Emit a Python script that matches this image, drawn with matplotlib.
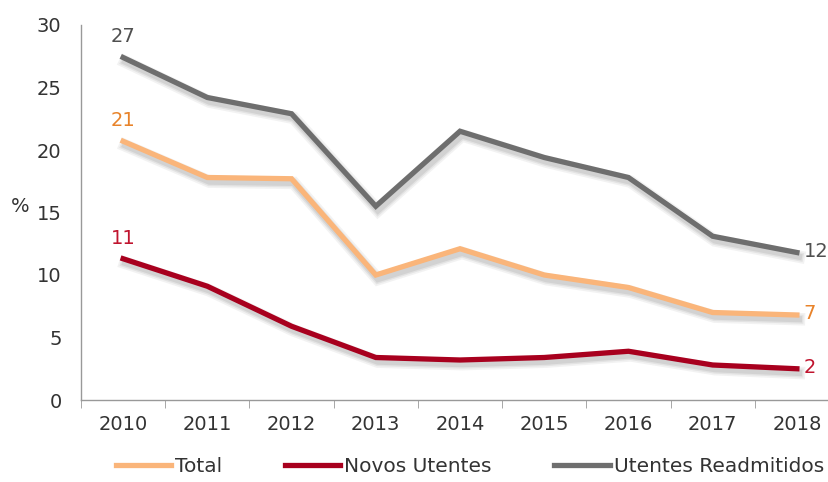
import matplotlib.pyplot as plt
import matplotlib.patheffects as pe
from matplotlib.lines import Line2D

# values (%)
anos = ['2010', '2011', '2012', '2013', '2014', '2015', '2016', '2017', '2018']
total = [20.7, 17.8, 17.7, 10.0, 12.1, 10.0, 9.0, 7.0, 6.8]
novos = [11.3, 9.1, 5.9, 3.4, 3.2, 3.4, 3.9, 2.8, 2.5]
readmitidos = [27.4, 24.2, 22.9, 15.5, 21.5, 19.4, 17.8, 13.1, 11.8]

# label shown at first/last point
lab_total = ['21', '7']
lab_novos = ['11', '2']
lab_readm = ['27', '12']

C_TOTAL = '#FAB57A'
C_NOVOS = '#A8001E'
C_READM = '#6E6E6E'
C_TOTAL_TXT = '#E8832A'
C_NOVOS_TXT = '#C0142E'
C_READM_TXT = '#505050'

plt.rcParams['font.family'] = ['DejaVu Sans']

fig = plt.figure(figsize=(8.29, 4.82), dpi=100)
ax = fig.add_axes([81 / 829, 1 - 400 / 482, (839 - 81) / 829, (400 - 25) / 482])

# soft drop shadow: a few wide, faint copies under each line
shadow = [pe.SimpleLineShadow(offset=(1.5, -3), shadow_color='#888888', alpha=0.10, linewidth=9),
          pe.SimpleLineShadow(offset=(1.5, -3), shadow_color='#888888', alpha=0.14, linewidth=6.5),
          pe.SimpleLineShadow(offset=(1.5, -3), shadow_color='#888888', alpha=0.18, linewidth=4.5),
          pe.Normal()]

x = list(range(len(anos)))
series = [(total, C_TOTAL, 'Total'), (novos, C_NOVOS, 'Novos Utentes'),
          (readmitidos, C_READM, 'Utentes Readmitidos')]
for vals, col, nome in series:
    ax.plot(x, vals, color=col, lw=3.8, path_effects=shadow, solid_joinstyle='miter')

fs = 14
for serie, labs, col in [(total, lab_total, C_TOTAL_TXT), (novos, lab_novos, C_NOVOS_TXT),
                         (readmitidos, lab_readm, C_READM_TXT)]:
    ax.annotate(labs[0], (0, serie[0]), xytext=(0, 8), textcoords='offset points',
                ha='center', va='bottom', color=col, fontsize=fs)
    ax.annotate(labs[1], (len(anos) - 1, serie[-1]), xytext=(5, 1), textcoords='offset points',
                ha='left', va='center', color=col, fontsize=fs)

ax.set_xlim(-0.5, 8.5)
ax.set_ylim(0, 30)
ax.set_yticks(range(0, 31, 5))
ax.set_xticks(x)
ax.set_xticklabels(anos)
ax.set_xticks([i + 0.5 for i in range(-1, len(anos))], minor=True)
ax.tick_params(axis='x', which='major', length=0, pad=11, labelsize=fs, colors='#333333')
ax.tick_params(axis='x', which='minor', length=6, color='#999999', direction='out')
ax.tick_params(axis='y', length=0, pad=14, labelsize=fs, colors='#333333')

for s in ['top', 'right']:
    ax.spines[s].set_visible(False)
for s in ['left', 'bottom']:
    ax.spines[s].set_color('#999999')
    ax.spines[s].set_linewidth(1)

ax.set_ylabel('%', rotation=0, fontsize=fs, color='#333333')
ax.yaxis.set_label_coords(-0.08, 0.49)

handles = [Line2D([], [], color=col, lw=3.8) for _, col, _ in series]
nomes = [nome for _, _, nome in series]
leg = fig.legend(handles, nomes, loc='lower center', bbox_to_anchor=(0.567, -0.025), ncol=3,
                 frameon=False, fontsize=14.5, handlelength=2.75, handletextpad=0.2,
                 columnspacing=3.1)
for t in leg.get_texts():
    t.set_color('#333333')

fig.savefig('out.png', dpi=100)
